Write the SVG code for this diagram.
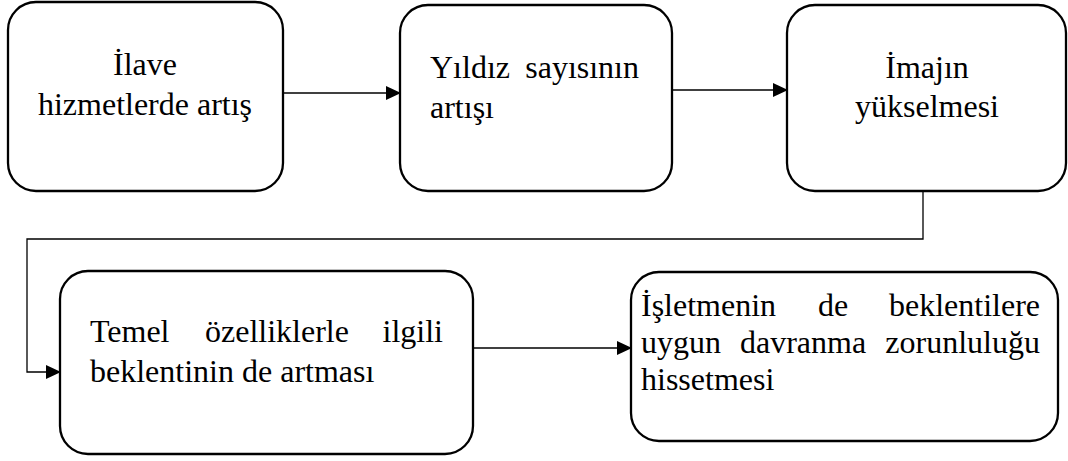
<svg xmlns="http://www.w3.org/2000/svg" width="1068" height="461" viewBox="0 0 1068 461">
<defs>
<style>
.box{fill:#fff;stroke:#000;stroke-width:2.3}
.t{font-family:'Liberation Serif','Times New Roman','Tinos',serif;font-size:32px;fill:#000}
.c{text-anchor:middle}
.e{text-anchor:end}
.ln{fill:none;stroke:#000;stroke-width:1.3}
</style>
<marker id="ah" markerWidth="15" markerHeight="14" refX="14" refY="7" orient="auto" markerUnits="userSpaceOnUse">
<path d="M0,0 L15,7 L0,14 Z" fill="#000"/>
</marker>
</defs>
<rect width="1068" height="461" fill="#fff"/>
<g id="connectors">
<line class="ln" x1="283" y1="93" x2="400" y2="93" marker-end="url(#ah)"/>
<line class="ln" x1="672" y1="90" x2="787" y2="90" marker-end="url(#ah)"/>
<polyline class="ln" points="923,191 923,239 27,239 27,372 60,372" marker-end="url(#ah)"/>
<line class="ln" x1="473" y1="348" x2="631" y2="348" marker-end="url(#ah)"/>
</g>
<g id="node1">
<rect class="box" x="8" y="2" width="275" height="189" rx="28"/>
<text class="t c" x="145" y="75">İlave</text>
<text class="t c" x="145" y="115">hizmetlerde artış</text>
</g>
<g id="node2">
<rect class="box" x="400" y="5" width="272" height="186" rx="28"/>
<text class="t" x="430" y="78">Yıldız</text>
<text class="t e" x="639" y="78">sayısının</text>
<text class="t" x="430" y="118">artışı</text>
</g>
<g id="node3">
<rect class="box" x="787" y="5" width="279" height="186" rx="28"/>
<text class="t c" x="927" y="78">İmajın</text>
<text class="t c" x="927" y="117">yükselmesi</text>
</g>
<g id="node4">
<rect class="box" x="60" y="271" width="413" height="183" rx="28"/>
<text class="t" x="90" y="342">Temel</text>
<text class="t" x="205" y="342">özelliklerle</text>
<text class="t e" x="443" y="342">ilgili</text>
<text class="t" x="90" y="382">beklentinin de artması</text>
</g>
<g id="node5">
<rect class="box" x="631" y="272" width="427" height="169" rx="28"/>
<text class="t" x="641" y="316">İşletmenin</text>
<text class="t" x="818" y="316">de</text>
<text class="t e" x="1040" y="316">beklentilere</text>
<text class="t" x="641" y="353">uygun</text>
<text class="t" x="740" y="353">davranma</text>
<text class="t e" x="1040" y="353">zorunluluğu</text>
<text class="t" x="641" y="390">hissetmesi</text>
</g>
</svg>
